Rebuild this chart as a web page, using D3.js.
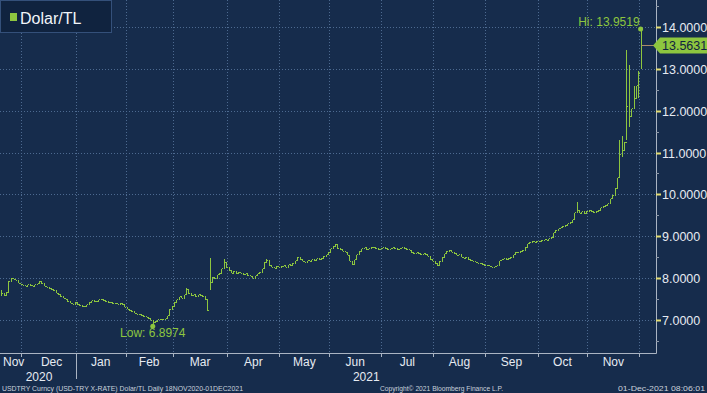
<!DOCTYPE html>
<html>
<head>
<meta charset="utf-8">
<script src="https://cdn.jsdelivr.net/npm/d3@7"></script>
<style>
  html, body { margin: 0; padding: 0; background: #162c4c; }
  svg { display: block; font-family: "Liberation Sans", Arial, sans-serif; }
</style>
</head>
<body>
<svg id="chart" width="707" height="393"></svg>
<script>
// daily closes (USD/TRY), one array per month, weekdays only
const closesNov20 = [7.63, 7.58, 7.66, 7.92, 8.00, 7.97, 7.95, 7.88, 7.85];
const closesDec20 = [7.83, 7.80, 7.84, 7.82, 7.80, 7.84, 7.86, 7.92, 7.86, 7.80, 7.78, 7.74, 7.72, 7.70, 7.64, 7.60, 7.56, 7.52, 7.50, 7.44, 7.40, 7.38, 7.42];
const closesJan21 = [7.36, 7.34, 7.31, 7.33, 7.36, 7.42, 7.46, 7.44, 7.45, 7.48, 7.50, 7.46, 7.44, 7.41, 7.42, 7.39, 7.40, 7.38, 7.40, 7.36, 7.30];
const closesFeb21 = [7.26, 7.22, 7.19, 7.16, 7.14, 7.12, 7.10, 7.08, 7.06, 7.03, 6.99, 6.95, 6.97, 7.00, 7.02, 7.00, 7.03, 7.10, 7.25, 7.33];
const closesMar21 = [7.42, 7.48, 7.55, 7.52, 7.60, 7.72, 7.62, 7.58, 7.60, 7.56, 7.60, 7.58, 7.55, 7.48, 7.22, 7.90, 8.02, 7.98, 8.08, 8.12, 8.22, 8.38, 8.25];
const closesApr21 = [8.18, 8.12, 8.16, 8.10, 8.14, 8.12, 8.08, 8.10, 8.06, 8.04, 8.00, 8.06, 8.10, 8.14, 8.22, 8.38, 8.42, 8.30, 8.26, 8.24, 8.28, 8.26];
const closesMay21 = [8.28, 8.30, 8.26, 8.32, 8.30, 8.36, 8.42, 8.50, 8.44, 8.40, 8.38, 8.42, 8.40, 8.44, 8.42, 8.46, 8.44, 8.48, 8.52, 8.56, 8.62];
const closesJun21 = [8.70, 8.76, 8.80, 8.70, 8.68, 8.64, 8.62, 8.54, 8.40, 8.32, 8.44, 8.56, 8.64, 8.70, 8.72, 8.68, 8.70, 8.74, 8.72, 8.70, 8.68, 8.70];
const closesJul21 = [8.72, 8.70, 8.68, 8.70, 8.72, 8.70, 8.68, 8.70, 8.72, 8.70, 8.68, 8.66, 8.60, 8.58, 8.60, 8.58, 8.56, 8.58, 8.56, 8.52, 8.44, 8.40];
const closesAug21 = [8.34, 8.30, 8.40, 8.50, 8.58, 8.64, 8.66, 8.62, 8.58, 8.54, 8.56, 8.50, 8.48, 8.50, 8.44, 8.42, 8.40, 8.38, 8.36, 8.34, 8.32, 8.30];
const closesSep21 = [8.30, 8.28, 8.26, 8.27, 8.30, 8.42, 8.44, 8.46, 8.44, 8.48, 8.50, 8.56, 8.62, 8.60, 8.64, 8.66, 8.74, 8.82, 8.86, 8.88, 8.86, 8.88];
const closesOct21 = [8.88, 8.90, 8.92, 8.90, 8.94, 8.98, 9.08, 9.14, 9.18, 9.20, 9.24, 9.26, 9.30, 9.34, 9.40, 9.56, 9.62, 9.55, 9.58, 9.54, 9.60];
const closesNov21 = [9.62, 9.58, 9.56, 9.60, 9.62, 9.68, 9.72, 9.74, 9.78, 9.90, 9.98, 10.15, 10.40, 10.95, 11.05, 11.25, 12.10, 11.85, 12.05, 12.30, 12.60, 12.90];
const closesDec21 = [13.5631];

// bars with a wider range than open/close (index = trading day)
const wideBars = [
  { i: 0, high: 7.72, low: 7.58 },
  { i: 64, low: 6.8974 },
  { i: 78, high: 7.77 },
  { i: 88, open: 8.30, high: 8.48, low: 7.72 },
  { i: 94, high: 8.45 },
  { i: 112, high: 8.45 },
  { i: 141, high: 8.82 },
  { i: 243, high: 9.82 },
  { i: 261, high: 11.30, low: 10.40 },
  { i: 262, high: 11.40, low: 10.90 },
  { i: 264, high: 13.45, low: 11.30 },
  { i: 265, high: 13.10, low: 11.60 },
  { i: 267, high: 12.60 },
  { i: 269, high: 12.95, low: 12.30 },
  { i: 270, open: 13.10, high: 13.9519, low: 13.00 }
];

const yTicks = [7, 8, 9, 10, 11, 12, 13, 14];
const monthNames = ["Jan", "Feb", "Mar", "Apr", "May", "Jun", "Jul", "Aug", "Sep", "Oct", "Nov", "Dec"];
const lowPoint = { i: 64, value: 6.8974 };
const highPoint = { i: 270, value: 13.9519 };
const lastPrice = 13.5631;

const closes = [].concat(closesNov20, closesDec20, closesJan21, closesFeb21, closesMar21, closesApr21,
  closesMay21, closesJun21, closesJul21, closesAug21, closesSep21, closesOct21, closesNov21, closesDec21);

// trading calendar: weekdays from 18 Nov 2020
const dates = [];
let d = new Date(2020, 10, 18);
while (dates.length < closes.length) {
  if (d.getDay() !== 0 && d.getDay() !== 6) dates.push(new Date(d));
  d.setDate(d.getDate() + 1);
}

const bars = closes.map((c, i) => {
  const w = wideBars.find(b => b.i === i) || {};
  const open = w.open !== undefined ? w.open : (i > 0 ? closes[i - 1] : c);
  return {
    i, close: c, open,
    high: w.high !== undefined ? w.high : Math.max(open, c),
    low: w.low !== undefined ? w.low : Math.min(open, c)
  };
});

const W = 707, H = 393;
const plotR = 656, plotB = 353;
const green = "#8dc63f";
const textCol = "#e6ebf2";

const svg = d3.select("#chart");
const x = d3.scaleLinear().domain([-0.5, 276.5]).range([0, plotR]);
const y = d3.scaleLinear().domain([6.21, 14.645]).range([plotB, 0]);

// months: first/last index of each month
const months = [];
dates.forEach((dt, i) => {
  const key = dt.getFullYear() * 12 + dt.getMonth();
  if (!months.length || months[months.length - 1].key !== key) months.push({ key, start: i, end: i, date: dt });
  else months[months.length - 1].end = i;
});

// grid
const grid = svg.append("g").attr("stroke", "#4d6a90").attr("stroke-dasharray", "1,2").attr("shape-rendering", "crispEdges");
yTicks.forEach(t => {
  grid.append("line").attr("x1", 0).attr("x2", plotR)
    .attr("y1", Math.round(y(t)) + 0.5).attr("y2", Math.round(y(t)) + 0.5);
});
months.slice(1).forEach(m => {
  const gx = Math.round(x(m.start - 0.5)) + 0.5;
  grid.append("line").attr("x1", gx).attr("x2", gx).attr("y1", 0).attr("y2", plotB);
});

// OHLC bars
svg.append("g").selectAll("path").data(bars).join("path")
  .attr("fill", "none").attr("stroke", green).attr("stroke-width", 1)
  .attr("shape-rendering", "crispEdges")
  .attr("d", b => {
    const cx = Math.round(x(b.i)) + 0.5;
    return `M${cx},${y(b.high)}V${y(b.low)}M${cx - 1},${y(b.open)}H${cx}M${cx},${y(b.close)}H${cx + 1}`;
  });

// axes
const axisCol = "#aab4c2";
svg.append("line").attr("x1", plotR + 0.5).attr("x2", plotR + 0.5).attr("y1", 0).attr("y2", plotB + 0.5)
  .attr("stroke", axisCol);
svg.append("line").attr("x1", 0).attr("x2", plotR + 0.5).attr("y1", plotB + 0.5).attr("y2", plotB + 0.5)
  .attr("stroke", axisCol);

// minor ticks on right axis
d3.range(6.5, 14.6, 0.5).filter(v => v % 1 !== 0).forEach(v => {
  svg.append("line").attr("x1", plotR).attr("x2", plotR + 3)
    .attr("y1", Math.round(y(v)) + 0.5).attr("y2", Math.round(y(v)) + 0.5).attr("stroke", "#8d98a8");
});
yTicks.forEach(t => {
  const ty = Math.round(y(t)) + 0.5;
  svg.append("line").attr("x1", plotR).attr("x2", plotR + 5).attr("y1", ty).attr("y2", ty)
    .attr("stroke", "#e3dc72").attr("stroke-width", 2);
  svg.append("text").attr("x", plotR + 6).attr("y", ty + 4.5)
    .attr("fill", textCol).attr("font-size", 12.5).text(t.toFixed(4));
});

// month ticks and labels
months.forEach((m, k) => {
  if (k > 0) {
    const gx = Math.round(x(m.start - 0.5)) + 0.5;
    svg.append("line").attr("x1", gx).attr("x2", gx).attr("y1", plotB).attr("y2", plotB + 4).attr("stroke", axisCol);
  }
  if (m.end - m.start < 3) return;
  svg.append("text").attr("x", x((m.start + m.end) / 2) + (k < 2 ? 3 : 0)).attr("y", 366)
    .attr("text-anchor", "middle").attr("fill", textCol).attr("font-size", 12)
    .text(monthNames[m.date.getMonth()]);
});

// year labels and separator
const jan = months.find(m => m.date.getMonth() === 0);
const sepX = Math.round(x(jan.start - 0.5)) + 0.5;
svg.append("line").attr("x1", sepX).attr("x2", sepX).attr("y1", plotB).attr("y2", 379).attr("stroke", axisCol);
svg.append("text").attr("x", 39).attr("y", 381).attr("text-anchor", "middle")
  .attr("fill", textCol).attr("font-size", 12).text("2020");
svg.append("text").attr("x", (sepX + plotR) / 2).attr("y", 381).attr("text-anchor", "middle")
  .attr("fill", textCol).attr("font-size", 12).text("2021");

// footer
const foot = svg.append("g").attr("fill", "#c9d1dc").attr("font-size", 7.5).attr("lengthAdjust", "spacingAndGlyphs");
foot.append("text").attr("x", 2).attr("y", 391).attr("textLength", 241).attr("lengthAdjust", "spacingAndGlyphs")
  .text("USDTRY Curncy (USD-TRY X-RATE) Dolar/TL  Daily 18NOV2020-01DEC2021");
foot.append("text").attr("x", 380).attr("y", 391).attr("textLength", 123).attr("lengthAdjust", "spacingAndGlyphs")
  .text("Copyright\u00A9 2021 Bloomberg Finance L.P.");
foot.append("text").attr("x", 618).attr("y", 391).attr("textLength", 87).attr("lengthAdjust", "spacingAndGlyphs")
  .text("01-Dec-2021 08:06:01");

// low / high annotations
svg.append("circle").attr("cx", x(lowPoint.i)).attr("cy", y(lowPoint.value) + 2).attr("r", 2.5).attr("fill", green);
svg.append("text").attr("x", x(lowPoint.i)).attr("y", 337).attr("text-anchor", "middle")
  .attr("fill", green).attr("font-size", 12).text("Low: " + lowPoint.value.toFixed(4));
svg.append("circle").attr("cx", x(highPoint.i)).attr("cy", y(highPoint.value)).attr("r", 2.5).attr("fill", green);
svg.append("text").attr("x", x(highPoint.i) - 1).attr("y", 26).attr("text-anchor", "end")
  .attr("fill", green).attr("font-size", 12).text("Hi: " + highPoint.value.toFixed(4));

// last price tag
const ly = Math.round(y(lastPrice)) + 0.5;
svg.append("line").attr("x1", x(270) + 1).attr("x2", plotR).attr("y1", ly).attr("y2", ly).attr("stroke", "#a88a6a");
svg.append("path").attr("fill", green)
  .attr("d", `M${plotR - 3},${ly}L${plotR + 4},${ly - 8}H${W}V${ly + 8}H${plotR + 4}Z`);
svg.append("text").attr("x", plotR + 6).attr("y", ly + 4.5).attr("fill", "#10223f").attr("font-size", 12.5)
  .text(lastPrice.toFixed(4));

// legend
const leg = svg.append("g");
leg.append("rect").attr("x", 0.5).attr("y", 0.5).attr("width", 111).attr("height", 32)
  .attr("fill", "#10233f").attr("stroke", "#34507a");
leg.append("rect").attr("x", 10).attr("y", 13).attr("width", 7).attr("height", 8).attr("fill", green);
leg.append("text").attr("x", 20).attr("y", 24).attr("fill", "#f2f5f9").attr("font-size", 16).text("Dolar/TL");
</script>
</body>
</html>
